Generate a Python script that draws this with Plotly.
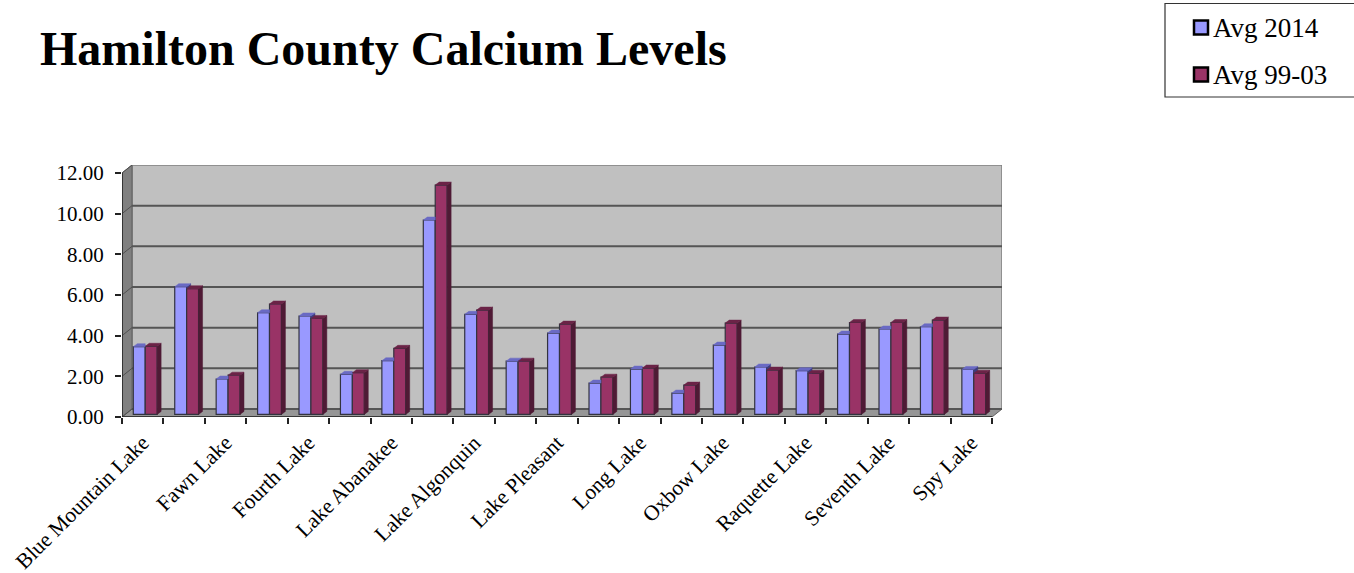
import plotly.graph_objects as go

TITLE = "Hamilton County Calcium Levels"
SERIES_2014 = "Avg 2014"
SERIES_9903 = "Avg 99-03"
LAKE_LABELS = ["Blue Mountain Lake", "Fawn Lake", "Fourth Lake", "Lake Abanakee", "Lake Algonquin",
               "Lake Pleasant", "Long Lake", "Oxbow Lake", "Raquette Lake", "Seventh Lake", "Spy Lake"]
Y_TICKS = [0, 2, 4, 6, 8, 10, 12]
AVG_2014 = [3.33, 6.28, 1.74, 5.00, 4.84, 1.97, 2.64, 9.56, 4.92, 2.62, 4.00,
            1.54, 2.23, 1.05, 3.41, 2.33, 2.15, 3.95, 4.20, 4.31, 2.21]
AVG_9903 = [3.35, 6.18, 1.93, 5.43, 4.72, 2.05, 3.25, 11.28, 5.13, 2.62, 4.44,
            1.83, 2.28, 1.44, 4.49, 2.18, 2.02, 4.52, 4.52, 4.64, 2.02]

W, H = 1354, 573
L, R, T, B = 122, 1002, 165, 417
FONT = "Liberation Serif"
N = len(AVG_2014)

# 3d look: px per unit of the two axes, then depth offsets in data units
PX_X = (991 - 122) / N
PX_Y = (417 - 173) / 12
WALL_DX, WALL_DY = 10 / PX_X, 8 / PX_Y
BAR_DX, BAR_DY = 4 / PX_X, 3 / PX_Y
BASE = 2.6 / PX_Y
SHIFT = 2.5 / PX_X
BAR_W = 11.9 / PX_X

BLUE, BLUE_TOP, BLUE_SIDE = "#9999ff", "#6a6ac4", "#3d3d80"
RED, RED_TOP, RED_SIDE = "#993366", "#6b2347", "#4f1a35"
EDGE = "#33333f"


def px(x):
    return (x - L) / (R - L)


def py(y):
    return (B - y) / (B - T)


def poly_trace(polys, color):
    xs, ys = [], []
    for p in polys:
        xs += [q[0] for q in p] + [p[0][0], None]
        ys += [q[1] for q in p] + [p[0][1], None]
    return go.Scatter(x=xs, y=ys, mode="lines", fill="toself", fillcolor=color,
                      line=dict(color=color, width=0.5), hoverinfo="skip", showlegend=False)


xcat = [i + 0.5 + SHIFT for i in range(N)]
blue_tops, blue_sides, red_tops, red_sides = [], [], [], []
for c, a, b in zip(xcat, AVG_2014, AVG_9903):
    ta, tb = a + BASE, b + BASE
    # blue faces get clipped where the red bar stands in front of them
    if b > a:
        blue_tops.append([(c - BAR_W, ta), (c, ta), (c, ta + BAR_DY), (c - BAR_W + BAR_DX, ta + BAR_DY)])
    else:
        blue_tops.append([(c - BAR_W, ta), (c, ta), (c + BAR_DX, ta + BAR_DY), (c - BAR_W + BAR_DX, ta + BAR_DY)])
        blue_sides.append([(c, tb), (c, ta), (c + BAR_DX, ta + BAR_DY), (c + BAR_DX, tb)])
    red_tops.append([(c, tb), (c + BAR_W, tb), (c + BAR_W + BAR_DX, tb + BAR_DY), (c + BAR_DX, tb + BAR_DY)])
    red_sides.append([(c + BAR_W, BASE), (c + BAR_W, tb), (c + BAR_W + BAR_DX, tb + BAR_DY),
                      (c + BAR_W + BAR_DX, BASE + BAR_DY)])

fig = go.Figure()
fig.add_trace(go.Bar(x=xcat, y=AVG_2014, base=BASE, width=BAR_W, offset=-BAR_W, name=SERIES_2014,
                     marker=dict(color=BLUE, line=dict(color=EDGE, width=1.2))))
fig.add_trace(go.Bar(x=xcat, y=AVG_9903, base=BASE, width=BAR_W, offset=0, name=SERIES_9903,
                     marker=dict(color=RED, line=dict(color=EDGE, width=1.2))))
fig.add_trace(poly_trace(blue_sides, BLUE_SIDE))
fig.add_trace(poly_trace(blue_tops, BLUE_TOP))
fig.add_trace(poly_trace(red_sides, RED_SIDE))
fig.add_trace(poly_trace(red_tops, RED_TOP))

x_end = N + WALL_DX
y_end = 12 + WALL_DY
shapes = [
    # back wall, side wall, floor
    dict(type="rect", x0=WALL_DX, x1=x_end, y0=WALL_DY, y1=y_end,
         fillcolor="#c0c0c0", line=dict(color="#808080", width=1.5), layer="below"),
    dict(type="path", path=f"M0,0 L{WALL_DX},{WALL_DY} L{WALL_DX},{y_end} L0,12 Z",
         fillcolor="#808080", line=dict(color="#606060", width=1), layer="below"),
    dict(type="path", path=f"M0,0 L{N},0 L{x_end},{WALL_DY} L{WALL_DX},{WALL_DY} Z",
         fillcolor="#969696", line=dict(color="#606060", width=1), layer="below"),
]
for v in Y_TICKS[:-1]:
    shapes.append(dict(type="line", x0=WALL_DX, x1=x_end, y0=v + WALL_DY, y1=v + WALL_DY,
                       line=dict(color="#555555", width=2), layer="below"))
for v in Y_TICKS:
    shapes.append(dict(type="line", x0=0, x1=WALL_DX, y0=v, y1=v + WALL_DY,
                       line=dict(color="#505050", width=1), layer="below"))
shapes.append(dict(type="line", x0=0, x1=0, y0=0, y1=12, line=dict(color="#222222", width=1.5)))
shapes.append(dict(type="line", x0=0, x1=N, y0=0, y1=0, line=dict(color="#222222", width=1.5)))

# legend box runs off the right side of the page in the original
shapes.append(dict(type="rect", xref="paper", yref="paper", x0=px(1165), x1=px(1370),
                   y0=py(97), y1=py(3.5), line=dict(color="#333333", width=1.2), fillcolor="white"))
annos = [dict(text=f"<b>{TITLE}</b>", xref="paper", yref="paper", x=px(38), y=py(48),
              xanchor="left", yanchor="middle", showarrow=False, font=dict(family=FONT, size=48, color="black"))]
for name, color, yc in [(SERIES_2014, BLUE, 27.5), (SERIES_9903, RED, 74.5)]:
    shapes.append(dict(type="rect", xref="paper", yref="paper", x0=px(1194), x1=px(1208),
                       y0=py(yc + 7), y1=py(yc - 7), fillcolor=color, line=dict(color="black", width=2.5)))
    annos.append(dict(text=name, xref="paper", yref="paper", x=px(1211), y=py(yc + 1),
                      xanchor="left", yanchor="middle", showarrow=False,
                      font=dict(family=FONT, size=27, color="black")))

fig.update_layout(
    width=W, height=H, paper_bgcolor="white", plot_bgcolor="white", showlegend=False,
    barmode="overlay", margin=dict(l=L, r=W - R, t=T, b=H - B, autoexpand=False),
    font=dict(family=FONT, color="black", size=21), shapes=shapes, annotations=annos,
    xaxis=dict(range=[0, x_end], showgrid=False, zeroline=False, showline=False,
               tickvals=[2 * i + 0.5 for i in range(len(LAKE_LABELS))], ticktext=LAKE_LABELS,
               tickangle=-45, ticks="", ticklen=5, tickfont=dict(size=21.5), ticklabelstandoff=8,
               minor=dict(tickvals=list(range(N + 1)), ticks="outside", ticklen=6, tickcolor="#222222", tickwidth=1.5)),
    yaxis=dict(range=[0, y_end], showgrid=False, zeroline=False, showline=False,
               tickvals=Y_TICKS, ticktext=[f"{v:.2f}" for v in Y_TICKS], ticklabelstandoff=7,
               ticks="outside", ticklen=6, tickcolor="#222222", tickwidth=1.5),
)
# drop the default body margin so the figure fills the window
fig.write_html("out.html", config=dict(displayModeBar=False),
               post_script="document.body.style.margin = '0';")
